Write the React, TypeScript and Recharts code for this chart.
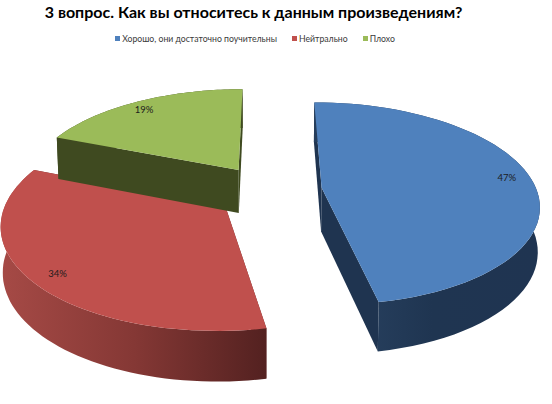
import { Legend, Pie, PieChart } from "recharts";

const categories = ["Хорошо, они достаточно поучительны", "Нейтрально", "Плохо"];
const shares = [47, 34, 19];
const topColors = ["#4f81bd", "#c0504d", "#9bbb59"];
const cutColors = ["#1f3450", "#6b2a28", "#3f4a20"];

const pieData = categories.map((name, i) => ({ name, value: shares[i], fill: topColors[i] }));

const FONT = "Lato, Carlito, 'Open Sans', sans-serif";
const EXPLODE = 54;
const TILT = 0.462;
const PERSPECTIVE = 0.157;

// flat pie plane -> screen, near side gets bigger
function project(X: number, Y: number, cx: number, cy: number, R: number) {
  const s = 1 / (1 + (PERSPECTIVE * Y) / R);
  return { x: cx + X * s, y: cy - Y * TILT * s, s };
}

function lower(p: { x: number; y: number; s: number }, cx: number) {
  return { x: p.x - (p.x - cx) * 0.008, y: p.y + 44 * Math.pow(p.s, 0.7), s: p.s };
}

const toPath = (pts: { x: number; y: number }[]) =>
  pts.map((p, i) => `${i ? "L" : "M"}${p.x.toFixed(1)} ${p.y.toFixed(1)}`).join(" ") + " Z";

const clock = (deg: number) => ((90 - deg) * Math.PI) / 180;

function Slice3D(props: any) {
  const { cx, cy, outerRadius: R, startAngle, endAngle, midAngle, fill, index } = props;
  const mid = clock(midAngle);
  const ax = EXPLODE * Math.sin(mid);
  const ay = EXPLODE * Math.cos(mid);
  const apex = project(ax, ay, cx, cy, R);
  const arc = [];
  const steps = 60;
  for (let i = 0; i <= steps; i++) {
    const t = clock(startAngle + ((endAngle - startAngle) * i) / steps);
    arc.push(project(ax + R * Math.sin(t), ay + R * Math.cos(t), cx, cy, R));
  }
  const first = arc[0];
  const last = arc[arc.length - 1];
  const low = arc.map((p) => lower(p, cx));
  const cut = cutColors[index];
  return (
    <g>
      <path d={toPath([first, apex, lower(apex, cx), lower(first, cx)])} fill={cut} />
      <path d={toPath([last, apex, lower(apex, cx), lower(last, cx)])} fill={cut} />
      <path d={toPath([...arc, ...low.reverse()])} fill={`url(#wall${index})`} />
      <path d={toPath([apex, ...arc])} fill={fill} />
    </g>
  );
}

function sliceLabel(props: any) {
  const { cx, cy, outerRadius: R, midAngle, percent } = props;
  const mid = clock(midAngle);
  const turned = clock(midAngle + 1.5);
  const r = R * 0.89;
  const p = project(EXPLODE * Math.sin(mid) + r * Math.sin(turned), EXPLODE * Math.cos(mid) + r * Math.cos(turned), cx, cy, R);
  return (
    <text x={p.x} y={p.y} textAnchor="middle" dominantBaseline="central" fontSize={9.5} fontFamily={FONT} fill="#1c1c1c">
      {`${Math.round(percent * 100)}%`}
    </text>
  );
}

function legendContent({ payload }: any) {
  return (
    <div style={{ display: "flex", justifyContent: "center", gap: 15, fontFamily: FONT, fontSize: 8.7, color: "#3a3a3a" }}>
      {(payload ?? []).map((item: any) => (
        <span key={item.value} style={{ display: "flex", alignItems: "center", gap: 2 }}>
          <span style={{ width: 5, height: 5, background: item.color ?? item.payload?.fill }} />
          {item.value}
        </span>
      ))}
    </div>
  );
}

export default function App() {
  return (
    <div style={{ position: "absolute", left: 0, top: 0, width: 552, height: 404, background: "#fff" }}>
      <div style={{ position: "absolute", top: 0, left: 0, width: 507, textAlign: "center", fontFamily: FONT, fontWeight: 700, fontSize: 16, lineHeight: "24px", color: "#000" }}>
        3 вопрос. Как вы относитесь к данным произведениям?
      </div>
      <PieChart width={552} height={404} margin={{ top: 0, right: 0, bottom: 0, left: 0 }}>
        <defs>
          <linearGradient id="wall0" gradientUnits="userSpaceOnUse" x1="375" x2="540" y1="0" y2="0">
            <stop offset="0" stopColor="#253d5b" />
            <stop offset="0.35" stopColor="#1f3551" />
            <stop offset="1" stopColor="#1f3451" />
          </linearGradient>
          <linearGradient id="wall1" gradientUnits="userSpaceOnUse" x1="0" x2="267" y1="0" y2="0">
            <stop offset="0" stopColor="#a64a46" />
            <stop offset="0.5" stopColor="#853835" />
            <stop offset="1" stopColor="#532120" />
          </linearGradient>
          <linearGradient id="wall2" gradientUnits="userSpaceOnUse" x1="0" x2="267" y1="0" y2="0">
            <stop offset="0" stopColor="#3f4a20" />
            <stop offset="1" stopColor="#3f4a20" />
          </linearGradient>
        </defs>
        <Pie
          data={pieData}
          dataKey="value"
          nameKey="name"
          cx={268}
          cy={190}
          outerRadius={215}
          startAngle={90}
          endAngle={-270}
          stroke="none"
          shape={Slice3D}
          activeShape={Slice3D}
          label={sliceLabel}
          labelLine={false}
          rootTabIndex={-1}
          isAnimationActive={false}
        />
        <Legend itemSorter={null} content={legendContent} wrapperStyle={{ position: "absolute", top: 33, left: 0, width: 510, bottom: "auto" }} />
      </PieChart>
    </div>
  );
}
